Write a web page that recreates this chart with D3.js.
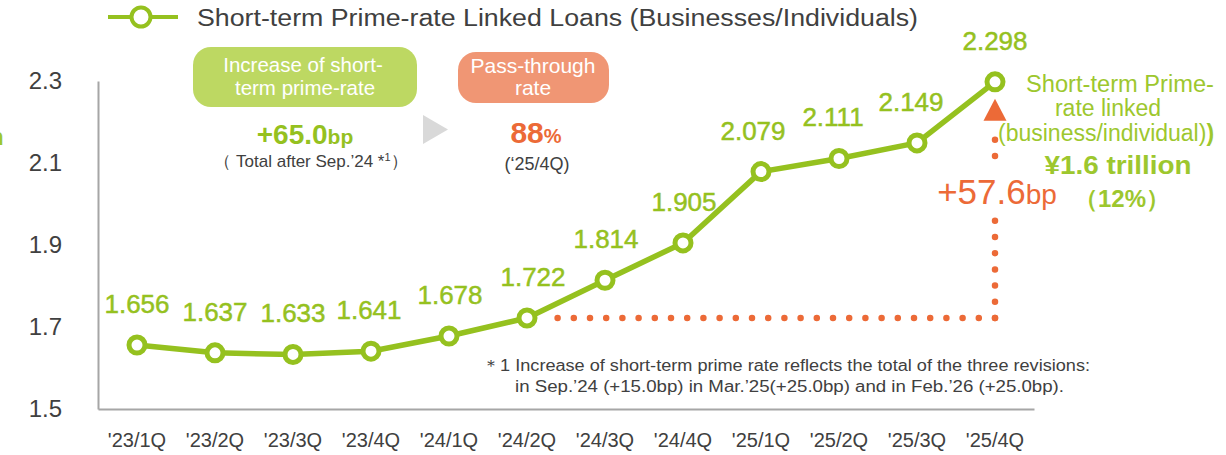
<!DOCTYPE html>
<html>
<head>
<meta charset="utf-8">
<script src="https://cdn.jsdelivr.net/npm/d3@7/dist/d3.min.js"></script>
<style>
  body { margin: 0; background: #fff; }
  svg { display: block; }
  text { font-family: "Liberation Sans", Arial, Helvetica, sans-serif; }
</style>
</head>
<body>
<svg id="chart" width="1226" height="455"></svg>
<script>
// Quarterly average rate on short-term prime-rate linked loans (%)
const quarters = ["'23/1Q", "'23/2Q", "'23/3Q", "'23/4Q", "'24/1Q", "'24/2Q",
                  "'24/3Q", "'24/4Q", "'25/1Q", "'25/2Q", "'25/3Q", "'25/4Q"];
const loanRates = [1.656, 1.637, 1.633, 1.641, 1.678, 1.722,
                   1.814, 1.905, 2.079, 2.111, 2.149, 2.298];
const yTicks = [1.5, 1.7, 1.9, 2.1, 2.3];

// Rate spread is measured from this quarter to the latest one
const spreadFrom = "'24/2Q";
const spreadTo = "'25/4Q";

const primeRateIncreaseBp = 65.0;
const passThroughPct = 88;

const GREEN = "#95c11f";
const LIGHT_GREEN = "#9dc72e";
const ORANGE = "#ec6a37";
const GREY_TEXT = "#404040";
const AXIS_GREY = "#a6a6a6";

const svg = d3.select("#chart");

const x = d3.scaleBand().domain(quarters).range([98, 1034]);
const y = d3.scaleLinear().domain([1.5, 2.3]).range([409, 81]);
const cx = q => x(q) + x.bandwidth() / 2;

// ---- axes ----
const yAxis = svg.append("g")
  .attr("transform", "translate(98,0)")
  .call(d3.axisLeft(y).tickValues(yTicks).tickFormat(d3.format(".1f"))
        .tickSize(0).tickSizeOuter(0).tickPadding(36));
yAxis.select(".domain").attr("stroke", AXIS_GREY).attr("stroke-width", 2);
yAxis.selectAll("text").attr("font-size", 24).attr("fill", GREY_TEXT)
  .attr("font-family", "'Liberation Sans', Arial, sans-serif");

const xAxis = svg.append("g")
  .attr("transform", "translate(0,409)")
  .call(d3.axisBottom(x).tickSize(0).tickSizeOuter(0).tickPadding(24));
xAxis.select(".domain").attr("stroke", AXIS_GREY).attr("stroke-width", 2);
xAxis.selectAll("text").attr("font-size", 20).attr("fill", GREY_TEXT)
  .attr("font-family", "'Liberation Sans', Arial, sans-serif");

// ---- spread guide (dotted) ----
const sy0 = y(loanRates[quarters.indexOf(spreadFrom)]);
const sy1 = y(loanRates[quarters.indexOf(spreadTo)]);
const sx0 = cx(spreadFrom);
const sx1 = cx(spreadTo);
const dotStyle = sel => sel.attr("fill", "none").attr("stroke", ORANGE)
  .attr("stroke-width", 6.5).attr("stroke-linecap", "round")
  .attr("stroke-dasharray", "0 16.2");
svg.append("path").attr("d", d3.line()([[sx1, sy0], [sx0 + 27, sy0]])).call(dotStyle);
svg.append("path").attr("d", d3.line()([[sx1, sy0], [sx1, sy1 + 44]])).call(dotStyle);
svg.append("path")
  .attr("d", d3.line()([[sx1, sy1 + 17], [sx1 + 11.5, sy1 + 39], [sx1 - 11.5, sy1 + 39]]) + "Z")
  .attr("fill", ORANGE);

// spread label (rates are in %, so 1 point = 100bp)
const spreadBp = (loanRates[quarters.indexOf(spreadTo)] - loanRates[quarters.indexOf(spreadFrom)]) * 100;
svg.append("rect").attr("x", sx1 - 10).attr("y", 168).attr("width", 20).attr("height", 44).attr("fill", "#fff");
const spreadText = svg.append("text").attr("x", sx1 + 2).attr("y", 204)
  .attr("text-anchor", "middle").attr("fill", ORANGE);
spreadText.append("tspan").attr("font-size", 35).text("+" + d3.format(".1f")(spreadBp));
spreadText.append("tspan").attr("font-size", 28).text("bp");

// ---- series line & markers ----
svg.append("path")
  .datum(loanRates)
  .attr("d", d3.line().x((d, i) => cx(quarters[i])).y(d => y(d)))
  .attr("fill", "none").attr("stroke", GREEN).attr("stroke-width", 5.5)
  .attr("stroke-linejoin", "round");

svg.selectAll("circle.pt").data(loanRates).join("circle")
  .attr("class", "pt")
  .attr("cx", (d, i) => cx(quarters[i])).attr("cy", d => y(d))
  .attr("r", 8).attr("fill", "#fff").attr("stroke", GREEN).attr("stroke-width", 5);

// value labels, nudged sideways where they would crowd the line
const labelNudge = [0, 0, 0, -2, 1, 6, 1, 1, -8, -6, -6, 0];
svg.selectAll("text.val").data(loanRates).join("text")
  .attr("class", "val")
  .attr("x", (d, i) => cx(quarters[i]) + labelNudge[i])
  .attr("y", d => y(d) - 32)
  .attr("text-anchor", "middle").attr("font-size", 26).attr("fill", GREEN)
  .attr("stroke", GREEN).attr("stroke-width", 0.5)
  .text(d => d3.format(".3f")(d));

// ---- legend ----
svg.append("line").attr("x1", 108).attr("x2", 178).attr("y1", 17).attr("y2", 17)
  .attr("stroke", GREEN).attr("stroke-width", 4);
svg.append("circle").attr("cx", 141).attr("cy", 17).attr("r", 9.5)
  .attr("fill", "#fff").attr("stroke", GREEN).attr("stroke-width", 4);
svg.append("text").attr("x", 197).attr("y", 26).attr("font-size", 23).attr("fill", GREY_TEXT)
  .attr("textLength", 721).attr("lengthAdjust", "spacingAndGlyphs")
  .text("Short-term Prime-rate Linked Loans (Businesses/Individuals)");

// ---- summary boxes ----
svg.append("rect").attr("x", 193).attr("y", 47).attr("width", 224).attr("height", 60)
  .attr("rx", 18).attr("fill", "#bdd862");
svg.append("text").attr("x", 303).attr("y", 72).attr("text-anchor", "middle")
  .attr("font-size", 20.5).attr("fill", "#fff").text("Increase of short-");
svg.append("text").attr("x", 305).attr("y", 95).attr("text-anchor", "middle")
  .attr("font-size", 20.5).attr("fill", "#fff").text("term prime-rate");

const incText = svg.append("text").attr("x", 305).attr("y", 144).attr("text-anchor", "middle")
  .attr("font-weight", "bold").attr("fill", GREEN);
incText.append("tspan").attr("font-size", 28).text("+" + d3.format(".1f")(primeRateIncreaseBp));
incText.append("tspan").attr("font-size", 21).text("bp");
const noteText = svg.append("text").attr("x", 311).attr("y", 167).attr("text-anchor", "middle")
  .attr("font-size", 17).attr("fill", GREY_TEXT);
noteText.append("tspan").text("（ Total after Sep.’24 *");
noteText.append("tspan").attr("font-size", 11).attr("dy", -6).text("1");
noteText.append("tspan").attr("dy", 6).text("）");

svg.append("path").attr("d", "M423,115L448,129.5L423,144Z").attr("fill", "#d9d9d9");

svg.append("rect").attr("x", 458).attr("y", 52).attr("width", 151).attr("height", 51)
  .attr("rx", 18).attr("fill", "#f09674");
svg.append("text").attr("x", 533).attr("y", 73).attr("text-anchor", "middle")
  .attr("font-size", 21).attr("fill", "#fff").text("Pass-through");
svg.append("text").attr("x", 533).attr("y", 95).attr("text-anchor", "middle")
  .attr("font-size", 21).attr("fill", "#fff").text("rate");

const passText = svg.append("text").attr("x", 536).attr("y", 143).attr("text-anchor", "middle")
  .attr("font-weight", "bold").attr("fill", ORANGE);
passText.append("tspan").attr("font-size", 30).text(passThroughPct);
passText.append("tspan").attr("font-size", 20).text("%");
svg.append("text").attr("x", 537).attr("y", 170).attr("text-anchor", "middle")
  .attr("font-size", 18).attr("fill", GREY_TEXT).text("(‘25/4Q)");

// ---- balance annotation ----
svg.append("text").attr("x", 1120).attr("y", 92).attr("text-anchor", "middle")
  .attr("font-size", 23).attr("fill", LIGHT_GREEN)
  .attr("textLength", 188).attr("lengthAdjust", "spacingAndGlyphs").text("Short-term Prime-");
svg.append("text").attr("x", 1108).attr("y", 116).attr("text-anchor", "middle")
  .attr("font-size", 23).attr("fill", LIGHT_GREEN).text("rate linked");
const bizText = svg.append("text").attr("x", 998).attr("y", 141)
  .attr("font-size", 23).attr("fill", LIGHT_GREEN);
bizText.append("tspan").text("(business/individual)");
bizText.append("tspan").attr("font-weight", "bold").text(")");
svg.append("text").attr("x", 1118).attr("y", 174).attr("text-anchor", "middle")
  .attr("font-size", 26).attr("font-weight", "bold").attr("fill", LIGHT_GREEN)
  .attr("textLength", 147).attr("lengthAdjust", "spacingAndGlyphs").text("¥1.6 trillion");
svg.append("text").attr("x", 1122).attr("y", 207).attr("text-anchor", "middle")
  .attr("font-size", 24).attr("font-weight", "bold").attr("fill", LIGHT_GREEN).text("（12%）");

// clipped label at the left edge
svg.append("text").attr("x", -11).attr("y", 145).attr("font-size", 24)
  .attr("font-weight", "bold").attr("fill", LIGHT_GREEN).text("n");

// ---- footnote ----
svg.append("text").attr("x", 482).attr("y", 371).attr("font-size", 16).attr("fill", GREY_TEXT)
  .attr("textLength", 608).attr("lengthAdjust", "spacingAndGlyphs")
  .text("＊1 Increase of short-term prime rate reflects the total of the three revisions:");
svg.append("text").attr("x", 515).attr("y", 392).attr("font-size", 16).attr("fill", GREY_TEXT)
  .attr("textLength", 549).attr("lengthAdjust", "spacingAndGlyphs")
  .text("in Sep.’24 (+15.0bp) in Mar.’25(+25.0bp) and in Feb.’26 (+25.0bp).");
</script>
</body>
</html>
